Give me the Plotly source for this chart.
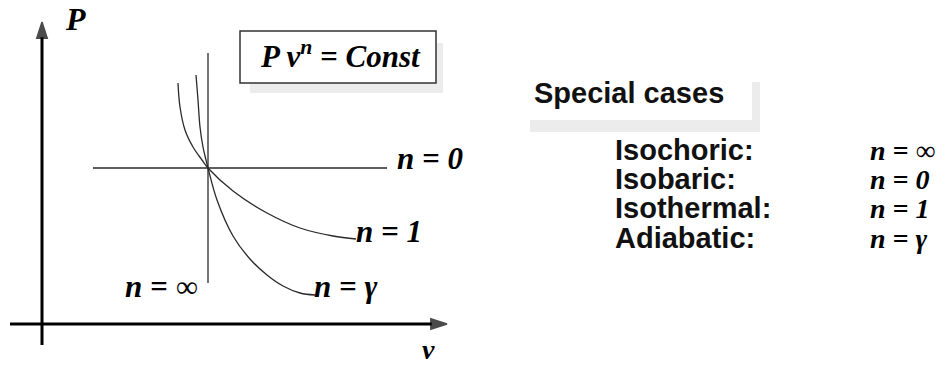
import plotly.graph_objects as go

# Diagram coordinates: v to the right, P upward, origin at the axes crossing
# Isothermal (n = 1) curve
n1_v = [136, 138, 143, 151, 160, 166, 191, 225, 258, 291, 314]
n1_P = [241, 217, 194, 177, 164, 156, 133, 111, 96, 88, 85]
# Adiabatic (n = gamma) curve
ng_v = [154, 156, 158, 161, 164, 166, 175, 191, 208, 225, 241, 258, 273]
ng_P = [249, 224, 197, 177, 164, 156, 124, 88, 65, 49, 38, 31, 29]
# Isobaric (n = 0) line
n0_v = [51, 345]
n0_P = [156, 156]
# Isochoric (n = inf) line
ninf_v = [166, 166]
ninf_P = [271, 41]
# Axes extents (start, arrow tip)
P_axis_v = [0, 0]
P_axis_P = [-21, 302]
v_axis_v = [-32, 405]
v_axis_P = [0, 0]

case_names = ["Isochoric:", "Isobaric:", "Isothermal:", "Adiabatic:"]
case_values = ["n = ∞", "n = 0", "n = 1", "n = γ"]
case_rows_P = [174, 145, 116, 86]

curve_col = "#2a2a2a"
serif = "Liberation Serif"
sans = "Liberation Sans"

fig = go.Figure()
for vv, pp in [(n1_v, n1_P), (ng_v, ng_P)]:
    fig.add_trace(go.Scatter(x=vv, y=pp, mode="lines",
                             line=dict(color=curve_col, width=1.3, shape="spline", smoothing=1.0),
                             hoverinfo="skip"))
for vv, pp in [(n0_v, n0_P), (ninf_v, ninf_P)]:
    fig.add_trace(go.Scatter(x=vv, y=pp, mode="lines",
                             line=dict(color=curve_col, width=1.3), hoverinfo="skip"))

# Axes drawn as lines with filled arrow markers at their tips
for vv, pp in [(P_axis_v, P_axis_P), (v_axis_v, v_axis_P)]:
    fig.add_trace(go.Scatter(x=vv, y=pp, mode="lines+markers",
                             line=dict(color="black", width=3),
                             marker=dict(symbol=["circle", "arrow"], size=[0, 17],
                                         angleref="previous", color="black",
                                         line=dict(width=1.5, color="black")),
                             hoverinfo="skip"))

# Shadowed boxes
shapes = [
    dict(type="rect", xref="x", yref="y", x0=208, x1=401, y0=231, y1=281,
         fillcolor="#ececec", line=dict(width=0), layer="below"),
    dict(type="rect", xref="x", yref="y", x0=198, x1=394, y0=241, y1=293,
         fillcolor="white", line=dict(color="#333333", width=1.5), layer="below"),
    dict(type="rect", xref="x", yref="y", x0=488, x1=718, y0=192, y1=242,
         fillcolor="#ececec", line=dict(width=0), layer="below"),
    dict(type="rect", xref="x", yref="y", x0=482, x1=710, y0=204, y1=248,
         fillcolor="white", line=dict(width=0), layer="below"),
]

ann = []

def mtext(x, y, t, size=28, xanchor="left", yanchor="middle", weight="bold"):
    ann.append(dict(x=x, y=y, xref="x", yref="y", text=t, showarrow=False,
                    xanchor=xanchor, yanchor=yanchor,
                    font=dict(family=serif, size=size, color="black",
                              style="italic", weight=weight)))

mtext(33, 305, "P", size=32, xanchor="center")
mtext(386, -43, "v", size=28, xanchor="center", yanchor="bottom")
mtext(298, 270, "P v<sup>n</sup> = Const", size=31, xanchor="center")
mtext(353, 166, "n = 0", size=31)
mtext(312, 93, "n = 1", size=31)
mtext(81, 38, "n = ∞", size=31)
mtext(270, 38, "n = γ", size=31)

ann.append(dict(x=490, y=231, xref="x", yref="y", text="Special cases", showarrow=False,
                xanchor="left", yanchor="middle",
                font=dict(family=sans, size=29, color="#111111", weight="bold")))
for name, val, pp in zip(case_names, case_values, case_rows_P):
    ann.append(dict(x=571, y=pp, xref="x", yref="y", text=name, showarrow=False,
                    xanchor="left", yanchor="middle",
                    font=dict(family=sans, size=29, color="#111111", weight="bold")))
    mtext(826, pp, val, size=28)

fig.update_layout(
    width=947, height=367,
    margin=dict(l=0, r=0, t=0, b=0),
    paper_bgcolor="white", plot_bgcolor="white",
    showlegend=False,
    shapes=shapes, annotations=ann,
    xaxis=dict(range=[-42, 905], visible=False, fixedrange=True),
    yaxis=dict(range=[-43, 324], visible=False, fixedrange=True),
)
fig.write_html("out.html", config={"displayModeBar": False},
               post_script="document.body.style.margin='0';")
